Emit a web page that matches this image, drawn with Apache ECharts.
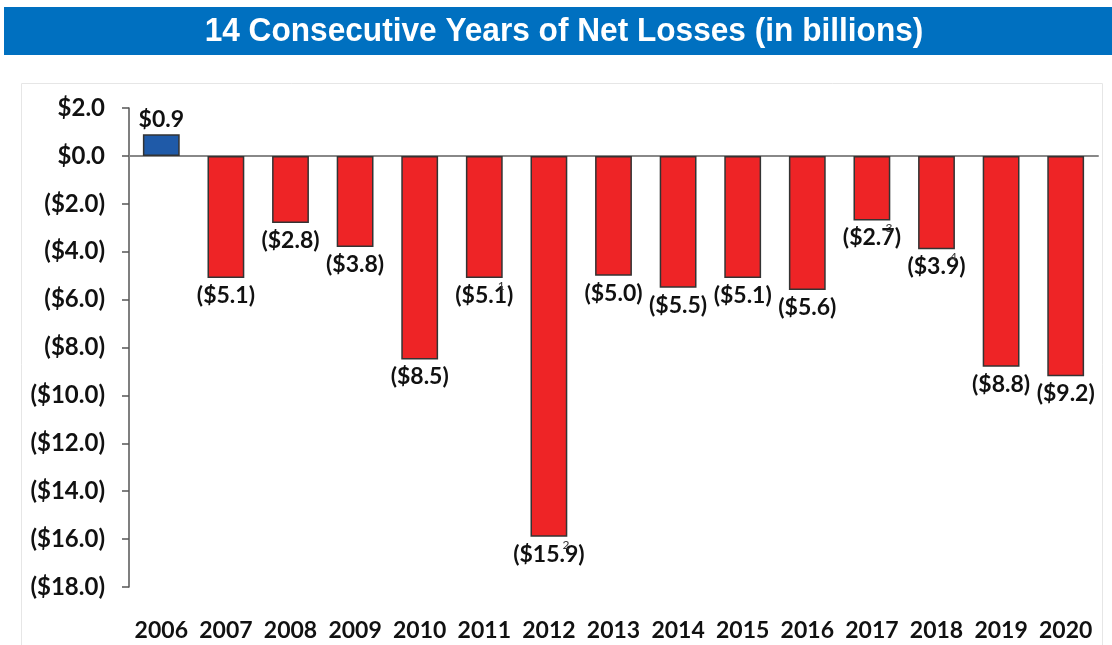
<!DOCTYPE html>
<html>
<head>
<meta charset="utf-8">
<script src="https://cdn.jsdelivr.net/npm/echarts@6/dist/echarts.min.js"></script>
<style>
html,body{margin:0;padding:0;background:#fff;}
#chart{width:1112px;height:645px;}
</style>
</head>
<body>
<div id="chart"></div>
<script>
const titleText = '14 Consecutive Years of Net Losses (in billions)';
const years = ['2006','2007','2008','2009','2010','2011','2012','2013','2014','2015','2016','2017','2018','2019','2020'];
const netIncome = [0.9, -5.1, -2.8, -3.8, -8.5, -5.1, -15.9, -5.0, -5.5, -5.1, -5.6, -2.7, -3.9, -8.8, -9.2];
const footnoteYears = ['2011', '2012', '2017', '2018'];
const footnoteMarks = ['1', '2', '3', '4'];
const yMin = -18, yMax = 2, yStep = 2;

function money(v) {
  const s = '$' + Math.abs(v).toFixed(1);
  return v < 0 ? '(' + s + ')' : s;
}

const chart = echarts.init(document.getElementById('chart'));
const FONT = 'Lato';

chart.setOption({
  animation: false,
  backgroundColor: '#ffffff',
  graphic: [
    { type: 'rect', shape: { x: 21.5, y: 83.5, width: 1081, height: 600 }, style: { fill: 'none', stroke: '#e6e6e6', lineWidth: 1 }, z: -1 },
    { type: 'rect', shape: { x: 4, y: 7, width: 1108, height: 48 }, style: { fill: '#0070C0' }, z: 0 },
    { type: 'text', x: 564, y: 32, scaleX: 0.93, style: { text: titleText, fill: '#ffffff', font: 'bold 34px "Liberation Sans", Arial, sans-serif', textAlign: 'center', textVerticalAlign: 'middle' }, z: 1 }
  ],
  grid: { left: 129, right: 14, top: 108, bottom: 58, containLabel: false },
  xAxis: [
    {
      type: 'category', data: years, position: 'bottom',
      axisLine: { show: true, onZero: true, lineStyle: { color: '#888888', width: 2 } },
      axisTick: { show: false }, axisLabel: { show: false }, splitLine: { show: false }
    },
    {
      type: 'category', data: years, position: 'bottom',
      axisLine: { show: false, onZero: false }, axisTick: { show: false }, splitLine: { show: false },
      axisLabel: { show: true, interval: 0, margin: 32, color: '#111111', fontFamily: FONT, fontWeight: 'bold', fontSize: 23 }
    }
  ],
  yAxis: {
    type: 'value', min: yMin, max: yMax, interval: yStep,
    axisLine: { show: true, lineStyle: { color: '#555555', width: 1.5 } },
    axisTick: { show: true, inside: false, length: 7, lineStyle: { color: '#555555', width: 1.5 } },
    splitLine: { show: false },
    axisLabel: { margin: 24, color: '#111111', fontFamily: FONT, fontWeight: 'bold', fontSize: 24, formatter: v => money(v) }
  },
  series: [{
    type: 'bar', xAxisIndex: 0,
    barWidth: '57%',
    data: netIncome.map(v => ({
      value: v,
      itemStyle: { color: v >= 0 ? '#1F5AA8' : '#EE2426' },
      label: { position: v >= 0 ? 'top' : 'bottom', distance: v >= 0 ? 3 : 6 }
    })),
    itemStyle: { borderColor: '#333333', borderWidth: 1.5 },
    label: {
      show: true, color: '#111111', fontFamily: FONT, fontSize: 23, fontWeight: 'bold',
      formatter: p => money(p.value)
    },
    markPoint: {
      symbol: 'circle', symbolSize: 0,
      data: footnoteYears.map((y, i) => ({
        coord: [y, netIncome[years.indexOf(y)]],
        value: footnoteMarks[i]
      })),
      label: { show: true, formatter: p => p.value, color: '#333333', fontFamily: FONT, fontSize: 12, offset: [17, 8] }
    }
  }]
});
</script>
</body>
</html>
